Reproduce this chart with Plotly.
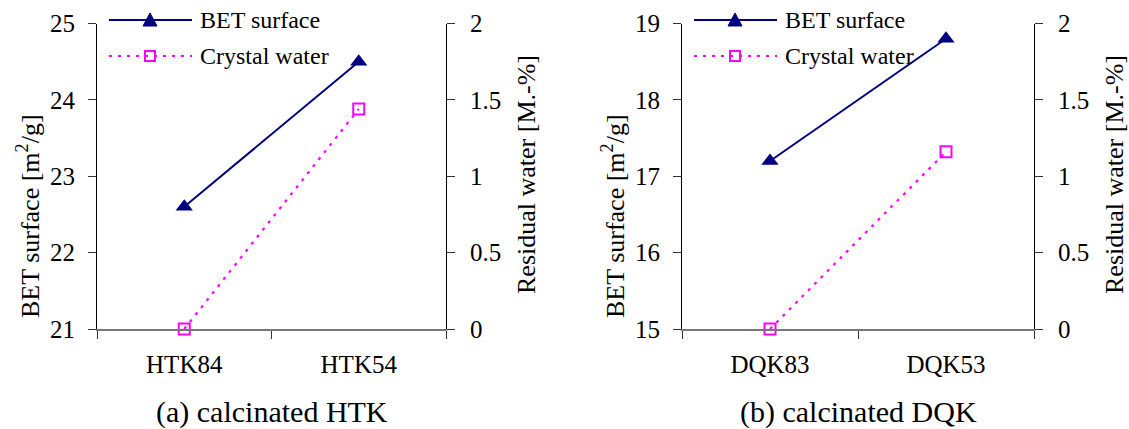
import plotly.graph_objects as go

# Sample series for the two calcination studies
htk_samples = ["HTK84", "HTK54"]
htk_bet = [22.6, 24.5]
htk_water = [0.0, 1.44]

dqk_samples = ["DQK83", "DQK53"]
dqk_bet = [17.2, 18.8]
dqk_water = [0.0, 1.16]

W, H = 1129, 429
NAVY = "#000080"
MAGENTA = "#FF00FF"
FONT = "'Liberation Serif', 'Times New Roman', Times, serif"


def px_x(p):
    return p / W


def px_y(p):
    return 1 - p / H


fig = go.Figure()

y_dom = [px_y(329), px_y(23.5)]
panels = [
    # x-axis id, left y id, right y id, inner-tick y id, domain px, samples, bet, water, bet range, caption
    ("x", "y", "y2", "y5", (97, 446), htk_samples, htk_bet, htk_water, [21, 25], "(a) calcinated HTK"),
    ("x2", "y3", "y4", "y6", (682, 1034), dqk_samples, dqk_bet, dqk_water, [15, 19], "(b) calcinated DQK"),
]

shapes = []
annotations = []

for xa, ya, yb, yc, (l, r), cats, bet, water, bet_rng, caption in panels:
    fig.add_trace(go.Scatter(
        x=cats, y=bet, xaxis=xa, yaxis=ya, mode="lines+markers",
        line=dict(color=NAVY, width=2),
        marker=dict(symbol="triangle-up", size=15, color=NAVY),
        showlegend=False, cliponaxis=False,
    ))
    fig.add_trace(go.Scatter(
        x=cats, y=water, xaxis=xa, yaxis=yb, mode="lines+markers",
        line=dict(color=MAGENTA, width=2.2, dash="3px,6px"),
        marker=dict(symbol="square-open", size=11, color=MAGENTA, line=dict(width=2)),
        showlegend=False, cliponaxis=False,
    ))

    xkey = "xaxis" if xa == "x" else "xaxis" + xa[1:]
    ykey_a = "yaxis" if ya == "y" else "yaxis" + ya[1:]
    ykey_b = "yaxis" + yb[1:]
    ykey_c = "yaxis" + yc[1:]

    fig.update_layout(**{
        xkey: dict(
            domain=[px_x(l), px_x(r)], anchor=ya, type="category",
            range=[-0.5, 1.5], tickson="boundaries", ticks="outside",
            ticklen=8, tickcolor="#333", tickwidth=1.2,
            showline=True, linecolor="#777", linewidth=1.6,
            showgrid=False, zeroline=False,
            tickfont=dict(family=FONT, size=25, color="black"),
            ticklabelstandoff=12,
        ),
        ykey_a: dict(
            domain=y_dom, anchor=xa, range=bet_rng, dtick=1,
            ticks="outside", ticklen=8, tickcolor="#333", tickwidth=1.2,
            showline=True, linecolor="black", linewidth=1.2,
            showgrid=False, zeroline=False,
            tickfont=dict(family=FONT, size=25, color="black"),
            ticklabelstandoff=8,
        ),
        ykey_b: dict(
            domain=y_dom, anchor=xa, overlaying=ya, side="right",
            range=[0, 2], dtick=0.5,
            ticks="outside", ticklen=8, tickcolor="#333", tickwidth=1.2,
            showline=True, linecolor="black", linewidth=1.2,
            showgrid=False, zeroline=False,
            tickfont=dict(family=FONT, size=25, color="black"),
            ticklabelstandoff=10,
        ),
        # inward half of the crossing ticks on the right axis
        ykey_c: dict(
            domain=y_dom, anchor=xa, overlaying=ya, side="right",
            range=[0, 2], dtick=0.5,
            ticks="inside", ticklen=8, tickcolor="#333", tickwidth=1.2,
            showline=False, showticklabels=False,
            showgrid=False, zeroline=False,
        ),
    })

    # axis titles
    annotations.append(dict(
        x=px_x(l - 69), y=px_y(216), xref="paper", yref="paper",
        text="BET surface [m<sup>2</sup>/g]", textangle=-90, showarrow=False,
        xanchor="center", yanchor="middle",
        font=dict(family=FONT, size=26, color="black"),
    ))
    annotations.append(dict(
        x=px_x(r + 80), y=px_y(175), xref="paper", yref="paper",
        text="Residual water [M.-%]", textangle=-90, showarrow=False,
        xanchor="center", yanchor="middle",
        font=dict(family=FONT, size=26, color="black"),
    ))
    # caption
    annotations.append(dict(
        x=px_x((l + r) / 2), y=px_y(412), xref="paper", yref="paper",
        text=caption, showarrow=False, xanchor="center", yanchor="middle",
        font=dict(family=FONT, size=30, color="black"),
    ))

    # legend keys drawn inside the panel
    lx0, lx1, lm = l + 12, l + 95, l + 53
    row1, row2 = 20, 56
    shapes.append(dict(type="line", xref="paper", yref="paper",
                       x0=px_x(lx0), x1=px_x(lx1), y0=px_y(row1), y1=px_y(row1),
                       line=dict(color=NAVY, width=2)))
    shapes.append(dict(type="path", xref="paper", yref="paper",
                       xsizemode="pixel", ysizemode="pixel",
                       xanchor=px_x(lm), yanchor=px_y(row1),
                       path="M -7,-6 L 7,-6 L 0,7 Z",
                       fillcolor=NAVY, line=dict(color=NAVY, width=1)))
    shapes.append(dict(type="line", xref="paper", yref="paper",
                       x0=px_x(lx0), x1=px_x(lx1), y0=px_y(row2), y1=px_y(row2),
                       line=dict(color=MAGENTA, width=2.2, dash="3px,6px")))
    shapes.append(dict(type="path", xref="paper", yref="paper",
                       xsizemode="pixel", ysizemode="pixel",
                       xanchor=px_x(lm), yanchor=px_y(row2),
                       path="M -5,-5 L 5,-5 L 5,5 L -5,5 Z",
                       fillcolor="rgba(0,0,0,0)", line=dict(color=MAGENTA, width=2)))
    annotations.append(dict(
        x=px_x(lx1 + 6), y=px_y(row1), xref="paper", yref="paper",
        text="BET surface", showarrow=False, xanchor="left", yanchor="middle",
        font=dict(family=FONT, size=24, color="black"),
    ))
    annotations.append(dict(
        x=px_x(lx1 + 6), y=px_y(row2), xref="paper", yref="paper",
        text="Crystal water", showarrow=False, xanchor="left", yanchor="middle",
        font=dict(family=FONT, size=24, color="black"),
    ))

fig.update_layout(
    width=W, height=H,
    margin=dict(l=0, r=0, t=0, b=0, autoexpand=False),
    paper_bgcolor="white", plot_bgcolor="white",
    showlegend=False,
    shapes=shapes, annotations=annotations,
    font=dict(family=FONT, color="black"),
)

fig.write_html("out.html")
